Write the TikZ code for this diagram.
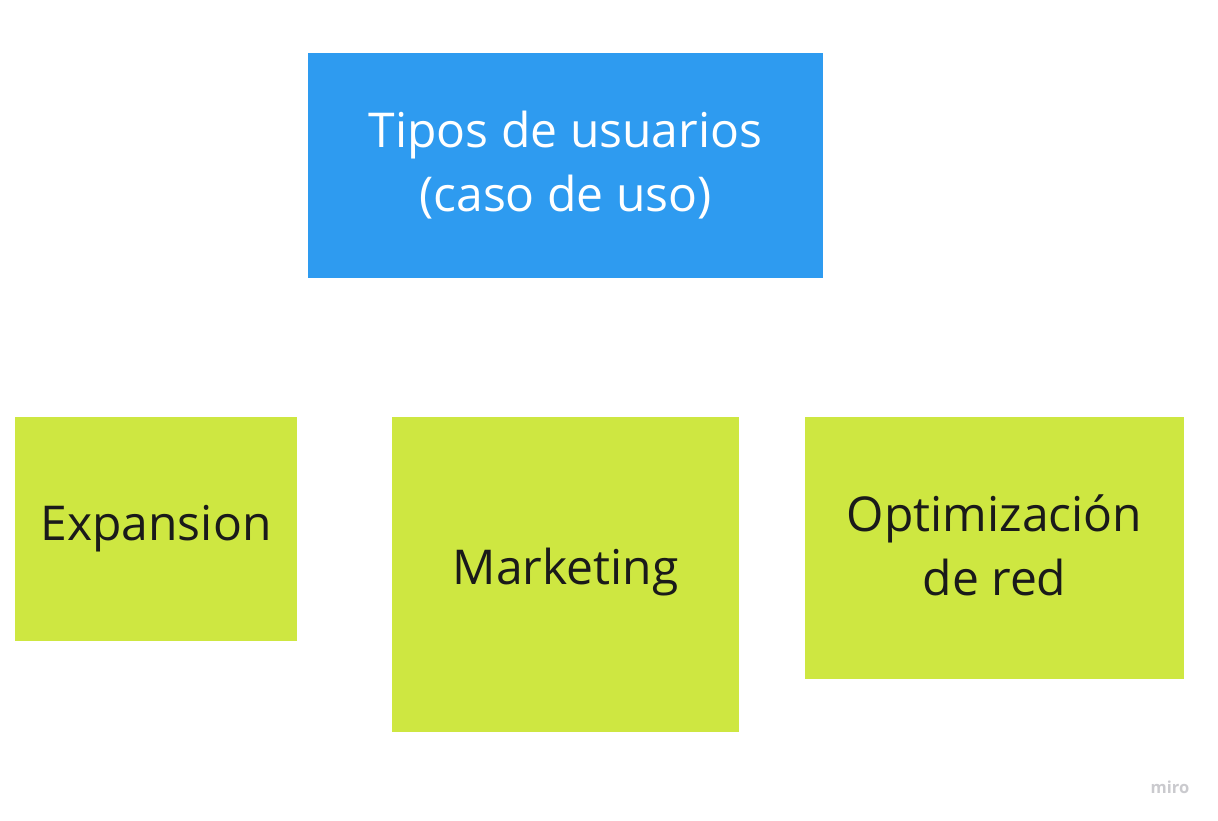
\documentclass[tikz,border=0pt]{standalone}
\usepackage{fontspec}
\setmainfont{Open Sans}
\definecolor{topblue}{HTML}{2E9BF0}
\definecolor{leafgreen}{HTML}{CEE741}
\definecolor{txtdark}{HTML}{1A1A1A}
\definecolor{wmgray}{HTML}{CACACE}
\begin{document}
\begin{tikzpicture}[x=1pt,y=1pt,
  boxbase/.style={draw=none, inner sep=0pt, align=center, font=\fontsize{48}{64}\selectfont},
  topbox/.style={boxbase, fill=topblue, text=white},
  leafbox/.style={boxbase, fill=leafgreen, text=txtdark}]
\useasboundingbox (0,0) rectangle (1218,820);
\fill[white] (0,0) rectangle (1218,820);
\node[topbox, minimum width=515pt, minimum height=225pt] (top) at (565.5,654.5) {Tipos de usuarios\\(caso de uso)};
\node[leafbox, minimum width=282pt, minimum height=224pt] (exp) at (156,291) {Expansion};
\node[leafbox, minimum width=347pt, minimum height=315pt] (mkt) at (565.5,245.5) {};
\node[boxbase, text=txtdark] (mkttext) at (565.5,248) {Marketing};
\node[leafbox, minimum width=379pt, minimum height=262pt] (opt) at (994.5,272) {};
\node[boxbase, text=txtdark] (opttext) at (994.5,275) {Optimización\\de red};
\node[text=wmgray, font=\fontsize{16.5}{18}\selectfont\bfseries] (miro) at (1170,33) {miro};
\end{tikzpicture}
\end{document}
